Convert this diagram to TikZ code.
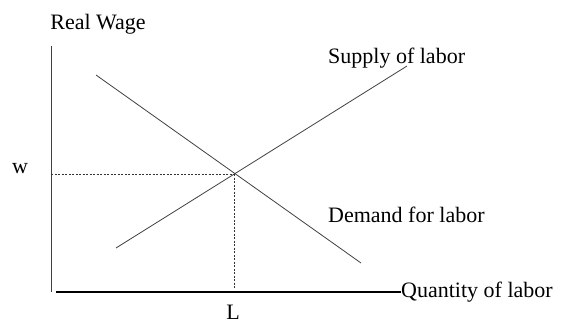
\documentclass[tikz,border=0pt]{standalone}
\usepackage{fontspec}
\setmainfont{Liberation Serif}
\begin{document}
\begin{tikzpicture}[x=1pt,y=-1pt,
  lbl/.style={font=\fontsize{22}{26}\selectfont, inner sep=0pt},
  curve/.style={draw=black!75, line width=0.8pt},
  guide/.style={draw=black!80, dashed, dash pattern=on 2pt off 1.5pt, line width=0.6pt}]
\useasboundingbox (0,0) rectangle (564,323);
% axes
\coordinate (ytop) at (51,46);
\coordinate (ybot) at (51,292);
\coordinate (xl) at (56,292);
\node[lbl, anchor=west] (qty) at (401,292) {Quantity of labor};
\draw[draw=black!75, line width=0.8pt] (ytop) -- (ybot);
\draw[line width=1.2pt] (xl) -- (qty.west);
% curves
\coordinate (s1) at (116,248);
\coordinate (s2) at (407,66);
\coordinate (d1) at (96,75);
\coordinate (d2) at (361,263);
\coordinate (eq) at (234,174);
\coordinate (wl) at (51,174);
\coordinate (lb) at (234,288);
\draw[curve] (s1) -- (s2);
\draw[curve] (d1) -- (d2);
\draw[guide] (wl) -- (eq);
\draw[guide] (eq) -- (lb);
% labels
\node[lbl] (rw) at (98,24) {Real Wage};
\node[lbl, anchor=west] (sup) at (328,58) {Supply of labor};
\node[lbl, anchor=west] (dem) at (328,215) {Demand for labor};
\node[lbl] (w) at (20,169) {w};
\node[lbl] (L) at (233,312) {L};
\end{tikzpicture}
\end{document}
